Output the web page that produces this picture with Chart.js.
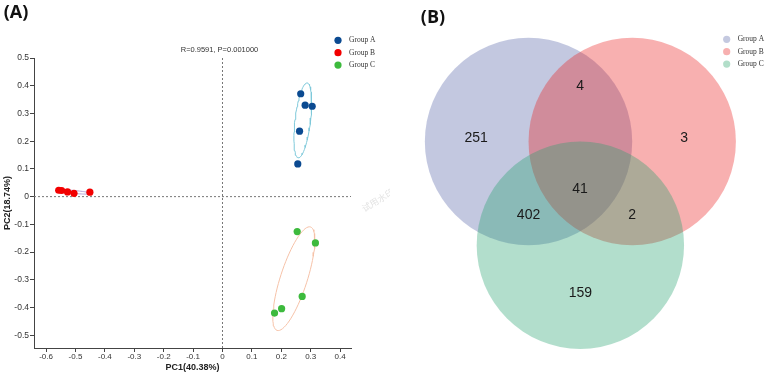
<!DOCTYPE html>
<html>
<head>
<meta charset="utf-8">
<script src="https://cdn.jsdelivr.net/npm/chart.js@4.4.1/dist/chart.umd.min.js"></script>
<style>
  body { margin: 0; background: #fff; width: 767px; height: 373px; overflow: hidden; position: relative; }
  #pcaBox { position: absolute; left: 0; top: 0; width: 390px; height: 373px; }
  #vennBox { position: absolute; left: 390px; top: 0; width: 377px; height: 373px; }
</style>
</head>
<body>
<div id="pcaBox"><canvas id="pca" width="390" height="373"></canvas></div>
<div id="vennBox"><canvas id="venn" width="377" height="373"></canvas></div>
<script>
// ---- (A) PCA scores ----
const groups = ["Group A", "Group B", "Group C"];
const groupColors = ["#0b4a91", "#f20000", "#3dba3d"];

const pc1A = [0.266, 0.281, 0.305, 0.262, 0.256];
const pc2A = [0.371, 0.330, 0.326, 0.236, 0.118];
const pc1B = [-0.557, -0.547, -0.527, -0.505, -0.451];
const pc2B = [0.023, 0.022, 0.017, 0.012, 0.016];
const pc1C = [0.254, 0.316, 0.271, 0.201, 0.177];
const pc2C = [-0.126, -0.167, -0.360, -0.404, -0.420];

// ellipses: centre, half major axis, half minor axis (data units)
const ellA = [[0.273, 0.275], [0.015, 0.135], [0.0262, -0.0032]];
const ellB = [[-0.507, 0.017], [0.0612, -0.0058], [-0.0004, 0.0054]];
const ellC = [[0.2425, -0.296], [0.0568, 0.1866], [0.0434, -0.0148]];
const ellColors = ["#7fc9da", "#b8a2d6", "#f6c2a8"];

const xTicks = [-0.6, -0.5, -0.4, -0.3, -0.2, -0.1, 0, 0.1, 0.2, 0.3, 0.4];
const yTicks = [-0.5, -0.4, -0.3, -0.2, -0.1, 0, 0.1, 0.2, 0.3, 0.4, 0.5];
const xMin = -0.641, xMax = 0.437;
const yMin = -0.546, yMax = 0.5;

const statText = "R=0.9591, P=0.001000";

// ---- (B) Venn ----
const vennSets = ["Group A", "Group B", "Group C"];
const vennFills = ["rgba(84,98,166,0.35)", "rgba(235,29,29,0.35)", "rgba(35,161,109,0.35)"];
const vennLegendColors = ["#c4c9e0", "#f7b0b0", "#b2dec9"];
const vennCentres = [[0, 0], [1, 0], [0.5, -1]];
const vennRadius = 1;
// region counts: A, B, C, AB, AC, BC, ABC
const vennCounts = [251, 3, 159, 4, 402, 2, 41];
const vennLabelPos = [[-0.506, 0.037], [1.5, 0.037], [0.5, -1.46], [0.497, 0.538], [0, -0.71], [1.0, -0.71], [0.497, -0.46]];

const sans = "'Liberation Sans', Arial, sans-serif";
const serif = "'Liberation Serif', 'Times New Roman', serif";

function toPoints(xs, ys) {
    return xs.map((x, i) => ({ x: x, y: ys[i] }));
}

function ellipsePoints(e) {
    const pts = [];
    for (let i = 0; i <= 72; i++) {
        const t = i / 72 * Math.PI * 2;
        pts.push({
            x: e[0][0] + Math.cos(t) * e[1][0] + Math.sin(t) * e[2][0],
            y: e[0][1] + Math.cos(t) * e[1][1] + Math.sin(t) * e[2][1]
        });
    }
    return pts;
}

function fmt(v) {
    return v === 0 ? "0" : v.toFixed(1);
}

// legends, panel letters, stat text
function drawLegend(ctx, names, colors, x, y0) {
    ctx.save();
    names.forEach((n, i) => {
        const y = y0 + i * 12.4;
        ctx.fillStyle = colors[i];
        ctx.beginPath();
        ctx.arc(x, y, 3.6, 0, Math.PI * 2);
        ctx.fill();
        ctx.fillStyle = "#333";
        ctx.font = "7.5px " + serif;
        ctx.textBaseline = "middle";
        ctx.textAlign = "left";
        ctx.fillText(n, x + 11, y);
    });
    ctx.restore();
}

const pcaDecor = {
    id: "pcaDecor",
    afterDraw(chart) {
        const ctx = chart.ctx;
        const sx = chart.scales.x;
        ctx.save();
        ctx.fillStyle = "#111";
        ctx.font = "bold 18px 'Open Sans', sans-serif";
        ctx.textAlign = "center";
        ctx.textBaseline = "middle";
        ctx.fillText("(A)", 16, 13);

        ctx.fillStyle = "#333";
        ctx.font = "7.5px " + sans;
        ctx.fillText(statText, sx.getPixelForValue(0) - 3, 49.5);

        ctx.translate(378, 200);
        ctx.rotate(-0.55);
        ctx.fillStyle = "rgba(190,190,190,0.45)";
        ctx.font = "9px 'Noto Sans CJK SC', sans-serif";
        ctx.fillText("试用水印", 0, 0);
        ctx.restore();

        drawLegend(ctx, groups, groupColors, 338, 40.3);
    }
};

const pcaData = [
    { label: groups[0], data: toPoints(pc1A, pc2A), backgroundColor: groupColors[0], pointRadius: 3.6, borderWidth: 0, order: 0 },
    { label: groups[1], data: toPoints(pc1B, pc2B), backgroundColor: groupColors[1], pointRadius: 3.6, borderWidth: 0, order: 0 },
    { label: groups[2], data: toPoints(pc1C, pc2C), backgroundColor: groupColors[2], pointRadius: 3.6, borderWidth: 0, order: 0 },
    { data: ellipsePoints(ellA), showLine: true, borderColor: ellColors[0], borderWidth: 1, pointRadius: 0, order: 1 },
    { data: ellipsePoints(ellB), showLine: true, borderColor: ellColors[1], borderWidth: 1, pointRadius: 0, order: 1 },
    { data: ellipsePoints(ellC), showLine: true, borderColor: ellColors[2], borderWidth: 1, pointRadius: 0, order: 1 },
    { data: [{ x: xMin, y: 0 }, { x: xMax, y: 0 }], showLine: true, borderColor: "#777", borderWidth: 1, borderDash: [2, 2], pointRadius: 0, order: 2 },
    { data: [{ x: 0, y: yMin }, { x: 0, y: yMax }], showLine: true, borderColor: "#777", borderWidth: 1, borderDash: [2, 2], pointRadius: 0, order: 2 }
];

new Chart(document.getElementById("pca"), {
    type: "scatter",
    data: { datasets: pcaData },
    plugins: [pcaDecor],
    options: {
        responsive: false,
        animation: false,
        events: [],
        layout: { padding: { left: 0, top: 58, right: 39, bottom: 0 } },
        plugins: { legend: { display: false }, tooltip: { enabled: false } },
        scales: {
            x: {
                type: "linear",
                min: xMin,
                max: xMax,
                afterFit: s => { s.height = 25; },
                afterBuildTicks: s => { s.ticks = xTicks.map(v => ({ value: v })); },
                grid: { drawOnChartArea: false, tickLength: 4, color: "#444" },
                border: { color: "#444" },
                ticks: { font: { size: 8, family: sans }, color: "#333", padding: 0, maxRotation: 0, autoSkip: false, callback: fmt },
                title: { display: true, text: "PC1(40.38%)", color: "#222", font: { size: 9, weight: "bold", family: sans }, padding: { top: 2, bottom: 0 } }
            },
            y: {
                type: "linear",
                min: yMin,
                max: yMax,
                afterFit: s => { s.width = 34; },
                afterBuildTicks: s => { s.ticks = yTicks.map(v => ({ value: v })); },
                grid: { drawOnChartArea: false, tickLength: 4, color: "#444" },
                border: { color: "#444" },
                ticks: { font: { size: 8.5, family: sans }, color: "#333", padding: 1, autoSkip: false, callback: fmt },
                title: { display: true, text: "PC2(18.74%)", color: "#222", font: { size: 9, weight: "bold", family: sans }, padding: { top: 2, bottom: 0 } }
            }
        }
    }
});

// ---- Venn chart ----
const vennDecor = {
    id: "vennDecor",
    afterDraw(chart) {
        const ctx = chart.ctx;
        const meta = chart.getDatasetMeta(3);
        ctx.save();
        ctx.fillStyle = "#1a1a1a";
        ctx.font = "14px " + sans;
        ctx.textAlign = "center";
        ctx.textBaseline = "middle";
        meta.data.forEach((pt, i) => {
            ctx.fillText(String(vennCounts[i]), pt.x, pt.y);
        });
        ctx.fillStyle = "#111";
        ctx.font = "bold 18px 'Open Sans', sans-serif";
        ctx.fillText("(B)", 43, 18);
        ctx.restore();
        drawLegend(ctx, vennSets, vennLegendColors, 336.7, 39.3);
    }
};

// circle radius in pixels = one Venn unit on the x scale
function circleRadius(c) {
    const s = c.chart.scales.x;
    if (!s) return 0;
    return Math.abs(s.getPixelForValue(vennRadius) - s.getPixelForValue(0));
}

const vennData = vennSets.map((name, i) => ({
    label: name,
    data: [{ x: vennCentres[i][0], y: vennCentres[i][1] }],
    pointBackgroundColor: vennFills[i],
    pointBorderWidth: 0,
    pointRadius: circleRadius,
    clip: false,
    order: 3 - i
}));
vennData.push({
    label: "counts",
    data: vennLabelPos.map(p => ({ x: p[0], y: p[1] })),
    pointRadius: 0,
    order: 0
});

new Chart(document.getElementById("venn"), {
    type: "scatter",
    data: { datasets: vennData },
    plugins: [vennDecor],
    options: {
        responsive: false,
        animation: false,
        events: [],
        layout: { padding: 0 },
        plugins: { legend: { display: false }, tooltip: { enabled: false } },
        scales: {
            x: { type: "linear", display: false, min: -1.336, max: 2.300 },
            y: { type: "linear", display: false, min: -2.232, max: 1.3645 }
        }
    }
});
</script>
</body>
</html>
